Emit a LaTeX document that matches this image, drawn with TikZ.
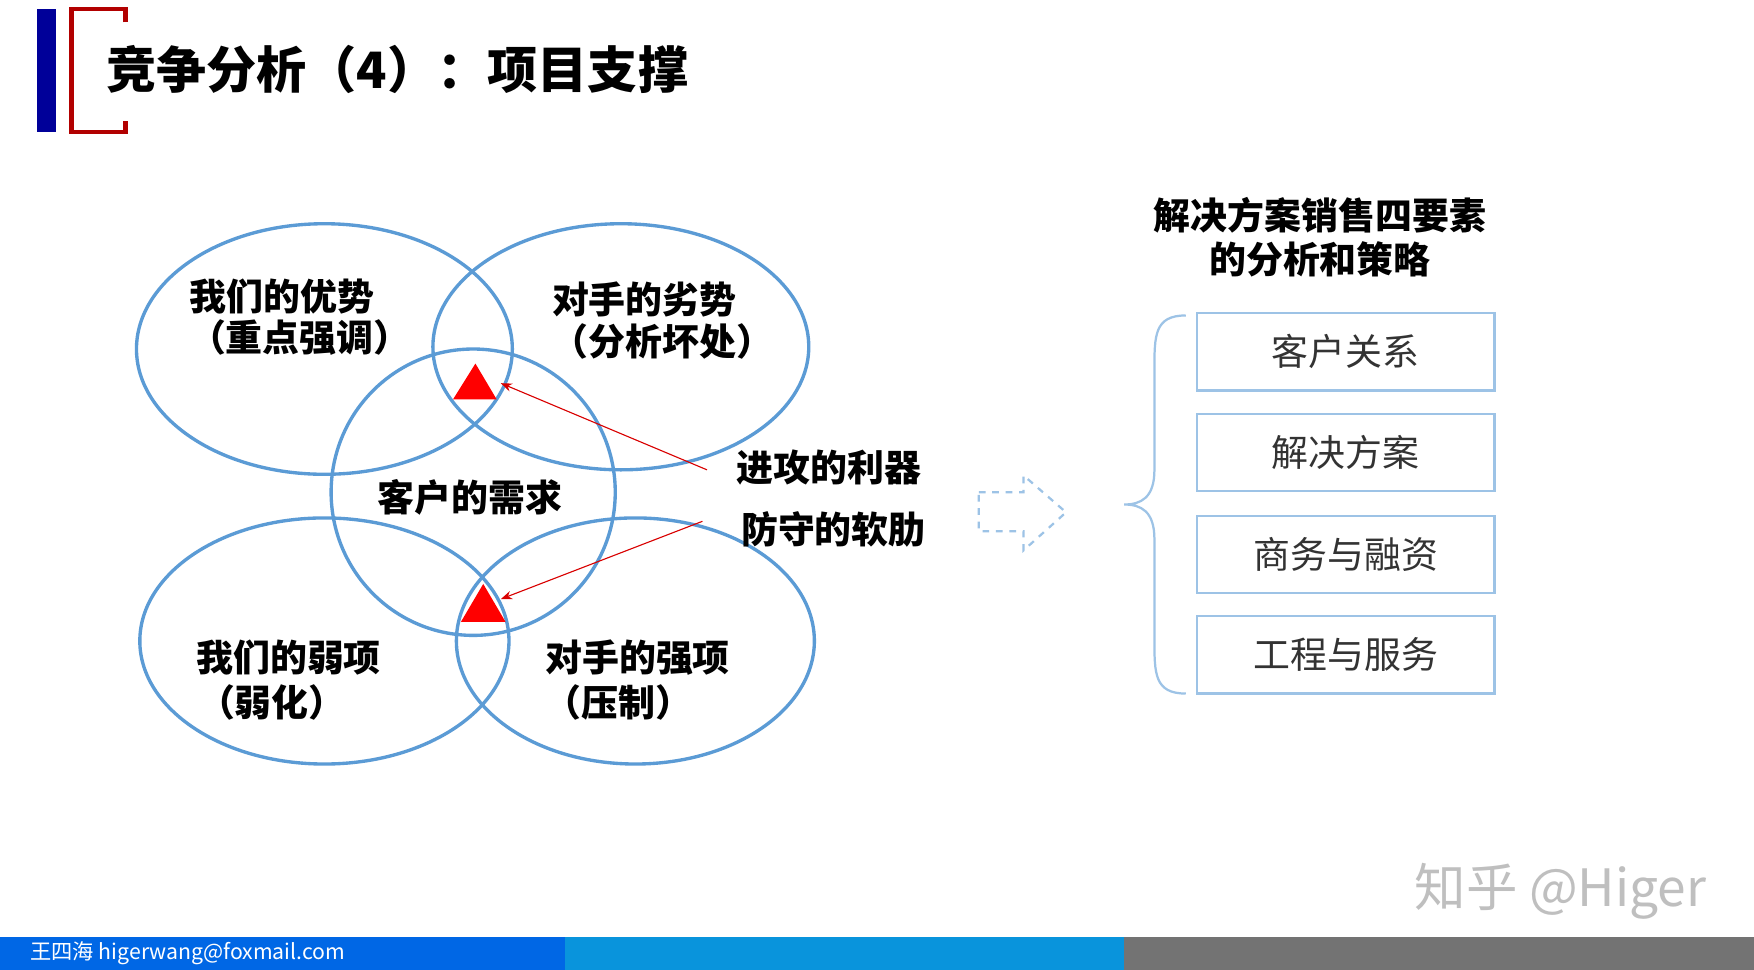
\documentclass[tikz,border=0pt]{standalone}
\usepackage{fontspec}
\setmainfont{Liberation Sans}
\newfontfamily\cjk{Noto Sans CJK SC}
\usetikzlibrary{arrows.meta}
\definecolor{lb}{HTML}{5B9BD5}
\definecolor{bx}{HTML}{9DC3E6}
\begin{document}
\begin{tikzpicture}[x=0.5pt,y=-0.5pt,
  ell/.style={draw=lb,line width=1.5pt},
  lab/.style={font=\cjk\bfseries\fontsize{16.5}{19}\selectfont,align=center,inner sep=0},
  tri/.style={fill=red,draw=none},
  pt/.style={-{Stealth[length=5pt]},draw=red!85!black,line width=0.5pt,shorten >=2pt},
  box/.style={draw=bx,line width=1pt,minimum width=133pt,minimum height=34.5pt,font=\cjk\fontsize{16.5}{19}\selectfont,text=black!80}]
\useasboundingbox (0,0) rectangle (1568,867);
\fill[white] (0,0) rectangle (1568,867);
% header marks
\fill[blue!60!black] (33,8) rectangle (50,118);
\draw[red!70!black,line width=2pt] (112,20)--(112,8)--(64,8)--(64,118)--(112,118)--(112,108);
\node[anchor=west,font=\cjk\bfseries\fontsize{22.4}{27}\selectfont] (title) at (88,62) {竞争分析（4）：项目支撑};
% ellipses
\draw[ell] (290,312) ellipse [x radius=168,y radius=112];
\draw[ell] (555,310) ellipse [x radius=168,y radius=110];
\draw[ell] (423,440) ellipse [x radius=127,y radius=128];
\draw[ell] (290,573) ellipse [x radius=165,y radius=110];
\draw[ell] (568,573) ellipse [x radius=160,y radius=110];
% triangles
\fill[tri] (425,325)--(405,357)--(444,357)--cycle;
\fill[tri] (432,522)--(412,556)--(452,556)--cycle;
\coordinate (t1) at (444,341);
\coordinate (t2) at (444,537);
% labels
\node[lab] (a) at (252,265) {我们的优势};
\node[lab] (a2) at (268,302) {（重点强调）};
\node[lab] (b) at (576,268) {对手的劣势};
\node[lab] (b2) at (592,305) {（分析坏处）};
\node[lab] (c) at (420,445) {客户的需求};
\node[lab] (d) at (258,588) {我们的弱项};
\node[lab] (d2) at (243,628) {（弱化）};
\node[lab] (e) at (570,588) {对手的强项};
\node[lab] (e2) at (553,628) {（压制）};
\node[lab] (f) at (741,418) {进攻的利器};
\node[lab] (g) at (745,473) {防守的软肋};
\coordinate (f0) at (632,420);
\coordinate (g0) at (628,466);
\draw[pt] (f0)--(t1);
\draw[pt] (g0)--(t2);
% dashed arrow
\draw[bx,dashed,line width=1pt] (875,440)--(915,440)--(915,425)--(953,458)--(915,492)--(915,475)--(875,475)--cycle;
% right side
\node[lab,font=\cjk\bfseries\fontsize{16.5}{20}\selectfont] (h) at (1180,212) {解决方案销售四要素\\的分析和策略};
\draw[bx,line width=1pt] (1060,282) .. controls (1032,282) and (1032,300) .. (1032,330)
  -- (1032,420) .. controls (1032,445) and (1020,451) .. (1005,451)
  .. controls (1020,451) and (1032,457) .. (1032,482)
  -- (1032,572) .. controls (1032,602) and (1032,620) .. (1060,620);
\node[box] (k1) at (1203,314.5) {客户关系};
\node[box] (k2) at (1203,404.5) {解决方案};
\node[box] (k3) at (1203,495.5) {商务与融资};
\node[box] (k4) at (1203,585.5) {工程与服务};
% watermark
\node[font=\cjk\fontsize{23}{27}\selectfont,text=black!25] (w) at (1395,797) {知乎 @Higer};
% bottom bar
\fill[blue!55!cyan!90!black] (0,838) rectangle (505,867);
\fill[cyan!80!blue] (505,838) rectangle (1005,867);
\fill[black!55] (1005,838) rectangle (1568,867);
\node[anchor=west,text=white,font=\cjk\fontsize{9.5}{11}\selectfont] (ft) at (20,852) {王四海 higerwang@foxmail.com};
\end{tikzpicture}
\end{document}
